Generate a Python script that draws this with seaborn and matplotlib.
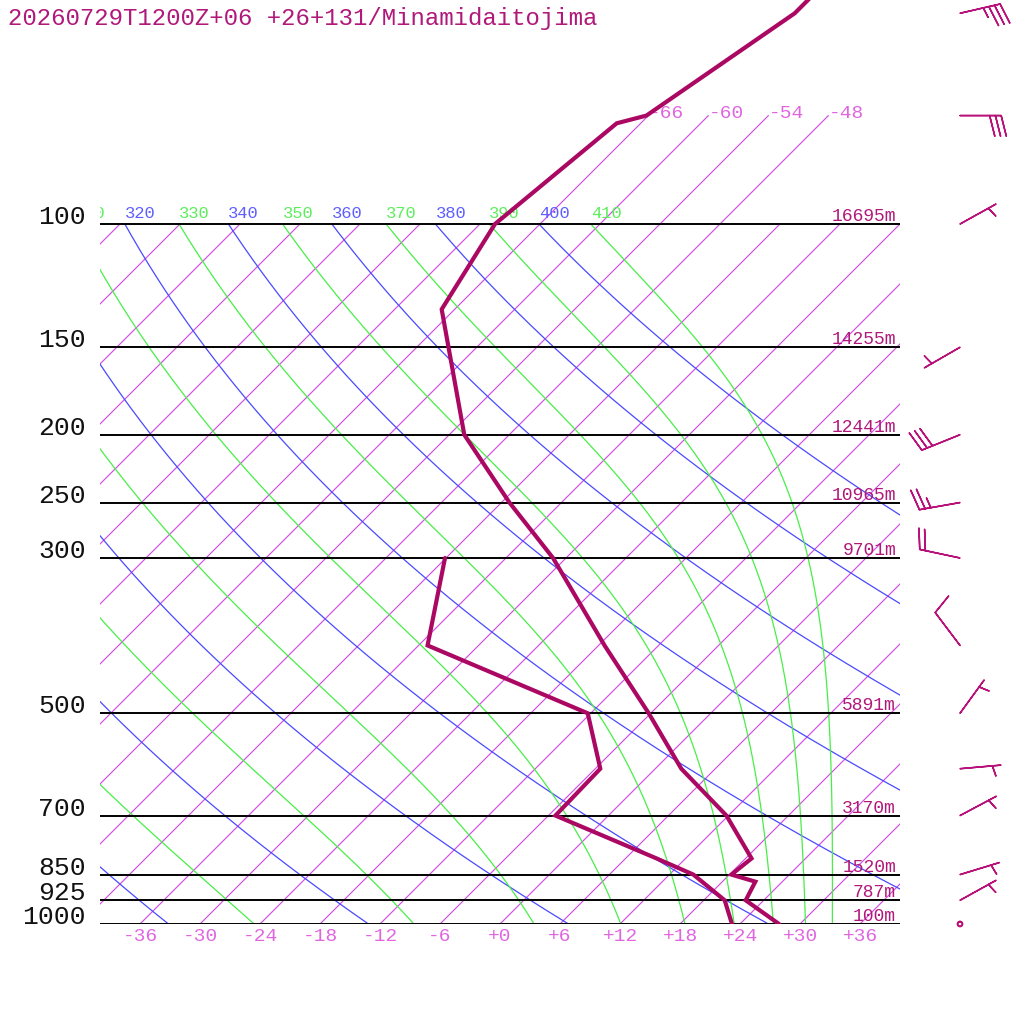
import numpy as np
import pandas as pd
import matplotlib
matplotlib.use("Agg")
import matplotlib.pyplot as plt
import matplotlib.transforms as mtransforms
import seaborn as sns

# ---------------------------------------------------------------- data
TITLE = "20260729T1200Z+06 +26+131/Minamidaitojima"

# temperature profile (hPa, degC)
t_pres = [30, 50, 70, 71.8, 100, 132.4, 200, 250, 300, 400, 500, 600, 700, 806, 850, 870, 925, 1000]
t_temp = [-61.6, -61.6, -66.2, -68.4, -70.5, -67.3, -52.5, -41.2, -31.3, -17.4, -6.2, 2.6, 11.8,
          18.6, 18.2, 21.3, 22.2, 27.9]

# dew point profile (hPa, degC)
d_pres = [300, 400, 500, 600, 700, 806, 850, 925, 1000]
d_dewp = [-42.1, -35.1, -12.3, -5.5, -5.3, 9.1, 14.4, 20.1, 23.2]

# winds (hPa, direction from [deg], speed [kt])
w_pres = [50, 70, 100, 150, 200, 250, 300, 400, 500, 600, 700, 850, 925, 1000]
w_dir = [77, 90, 61, 240, 248, 260, 282, 323, 36, 85, 62, 73, 61, 0]
w_spd = [35, 30, 5, 5, 30, 25, 20, 10, 5, 5, 5, 5, 5, 0]

# pressure levels with geopotential heights
lev_pres = [100, 150, 200, 250, 300, 500, 700, 850, 925, 1000]
lev_hgt = ["16695m", "14255m", "12441m", "10965m", "9701m", "5891m", "3170m", "1520m", "787m", "100m"]

# reference lines
iso_ticks = list(range(-36, 37, 6))          # labelled isotherms at bottom
iso_all = list(range(-108, 37, 6))           # all isotherms
iso_upper = [-66, -60, -54, -48]             # isotherms extended above 100 hPa
theta_dry = list(range(240, 401, 20))        # dry adiabats (K)
theta_dry_lab = [320, 340, 360, 380, 400]
theta_moist = list(range(250, 411, 20))      # saturated equivalent potential temperature (K)
theta_moist_lab = [310, 330, 350, 370, 390, 410]

# ---------------------------------------------------------------- style
sns.set_style("white")
FONT = ["Liberation Mono", "DejaVu Sans Mono"]
plt.rcParams["font.family"] = FONT

C_PROFILE = "#aa0862"
C_TEXT = "#b0187a"
C_BARB = "#b8127a"
C_ISO = "#d24ee4"
C_ISO_TXT = "#e066e0"
C_DRY = "#4a4aff"
C_DRY_TXT = "#5e5eff"
C_MOIST = "#48ee48"
C_MOIST_TXT = "#5cee5c"

P_BOT = 1000.0
P_TOP = 1000.0 * 10 ** (-924.0 / 700.0)

fig = plt.figure(figsize=(10.24, 10.24), dpi=100)
ax = fig.add_axes([100 / 1024, 100 / 1024, 800 / 1024, 924 / 1024])
ax.set_yscale("log")
ax.set_xlim(-40, 40)
ax.set_ylim(P_BOT, P_TOP)
ax.set_autoscale_on(False)
ax.axis("off")

# skew transform: isotherms lean 45 degrees to the right, anchored at 1000 hPa
x0, y0 = ax.transAxes.transform((0, 0))
skew = mtransforms.Affine2D().translate(-x0, -y0).skew_deg(45, 0).translate(x0, y0)
tr = ax.transData + skew


# ---------------------------------------------------------------- thermodynamics for background lines
def theta_e_sat(tk, p):
    tc = tk - 273.15
    es = 6.112 * np.exp(17.67 * tc / (tc + 243.5))
    r = 622.0 * es / (p - es)
    return tk * (1000.0 / p) ** (0.2854 * (1 - 0.28e-3 * r)) * np.exp(
        (3.376 / tk - 0.00254) * r * (1 + 0.81e-3 * r))


def moist_temp(the, p):
    lo = np.full_like(p, 150.0)
    hi = np.minimum(the * (p / 1000.0) ** 0.2854, 273.15 + 40.0)
    for _ in range(60):
        mid = 0.5 * (lo + hi)
        f = theta_e_sat(mid, p) - the
        hi = np.where(f > 0, mid, hi)
        lo = np.where(f > 0, lo, mid)
    return 0.5 * (lo + hi) - 273.15


pgrid = np.geomspace(1000.0, 100.0, 240)

# isotherms
for t in iso_all:
    ax.plot([t, t], [1000, 100], transform=tr, color=C_ISO, lw=0.85, zorder=1)
for t in iso_upper:
    ax.plot([t, t], [100, 70], transform=tr, color=C_ISO, lw=0.85, zorder=1)
    ax.annotate(f"{t:d}", xy=(t, 70), xycoords=tr, xytext=(0.3, -1.6), textcoords="offset points",
                ha="left", va="baseline", fontsize=14, color=C_ISO_TXT, family=FONT,
                annotation_clip=False)

# dry adiabats
for th in theta_dry:
    tt = th * (pgrid / 1000.0) ** 0.286 - 273.15
    ax.plot(tt, pgrid, transform=tr, color=C_DRY, lw=0.9, zorder=2)
    if th in theta_dry_lab:
        ax.annotate(str(th), xy=(tt[-1], 100), xycoords=tr, xytext=(0, 4.6), textcoords="offset points",
                    ha="left", va="baseline", fontsize=12.3, color=C_DRY_TXT, family=FONT,
                    annotation_clip=False, clip_on=True)

# moist adiabats
for th in theta_moist:
    tt = moist_temp(float(th), pgrid)
    ax.plot(tt, pgrid, transform=tr, color=C_MOIST, lw=0.9, zorder=2)
    if th in theta_moist_lab:
        ax.annotate(str(th), xy=(tt[-1], 100), xycoords=tr, xytext=(0, 4.6), textcoords="offset points",
                    ha="left", va="baseline", fontsize=12.3, color=C_MOIST_TXT, family=FONT,
                    annotation_clip=False, clip_on=True)

# pressure levels
blend = mtransforms.blended_transform_factory(ax.transAxes, ax.transData)
for p, h in zip(lev_pres, lev_hgt):
    ax.axhline(p, xmin=0, xmax=1, color="black", lw=1.4, zorder=3)
    ax.annotate(str(p), xy=(-14 / 800, p), xycoords=blend, xytext=(0, 0), textcoords="offset points",
                ha="right", va="baseline", fontsize=19, color="#111111", family=FONT,
                annotation_clip=False)
    ax.annotate(h, xy=(796 / 800, p), xycoords=blend, xytext=(0, 2.2), textcoords="offset points",
                ha="right", va="baseline", fontsize=13, color=C_TEXT, family=FONT,
                annotation_clip=False, zorder=4)

# bottom temperature labels
for t in iso_ticks:
    ax.annotate(f"{t:+d}", xy=(t, 1000), xycoords=tr, xytext=(0, -9.0), textcoords="offset points",
                ha="center", va="center", fontsize=14, color=C_ISO_TXT, family=FONT,
                annotation_clip=False)

# sounding profiles
temp_df = pd.DataFrame({"T": t_temp, "p": t_pres})
dewp_df = pd.DataFrame({"T": d_dewp, "p": d_pres})
sns.lineplot(data=temp_df, x="T", y="p", sort=False, estimator=None, ax=ax, color=C_PROFILE,
             lw=3.0, transform=tr, zorder=6, solid_joinstyle="miter")
sns.lineplot(data=dewp_df, x="T", y="p", sort=False, estimator=None, ax=ax, color=C_PROFILE,
             lw=3.0, transform=tr, zorder=6, solid_joinstyle="miter")
ax.set_xlim(-40, 40)
ax.set_ylim(P_BOT, P_TOP)
ax.axis("off")

# ---------------------------------------------------------------- wind barbs
bax = fig.add_axes([900 / 1024, 100 / 1024, 124 / 1024, 924 / 1024])
bax.set_yscale("log")
bax.set_xlim(900, 1024)
bax.set_ylim(P_BOT, P_TOP)
bax.axis("off")
wd = np.deg2rad(np.array(w_dir, dtype=float))
ws = np.array(w_spd, dtype=float)
u = -ws * np.sin(wd)
v = -ws * np.cos(wd)
bax.barbs(np.full(len(w_pres), 960.0), w_pres, u, v, length=7.7, barbcolor=C_BARB, flagcolor=C_BARB,
          linewidth=1.1, sizes=dict(emptybarb=0.06, height=0.5, spacing=0.14, width=0.25),
          clip_on=False)

# ---------------------------------------------------------------- title
fig.text(8 / 1024, 1 - 25 / 1024, TITLE, ha="left", va="baseline", fontsize=17.3, color=C_TEXT,
         family=FONT)

fig.savefig("out.png", dpi=100, facecolor="white")
